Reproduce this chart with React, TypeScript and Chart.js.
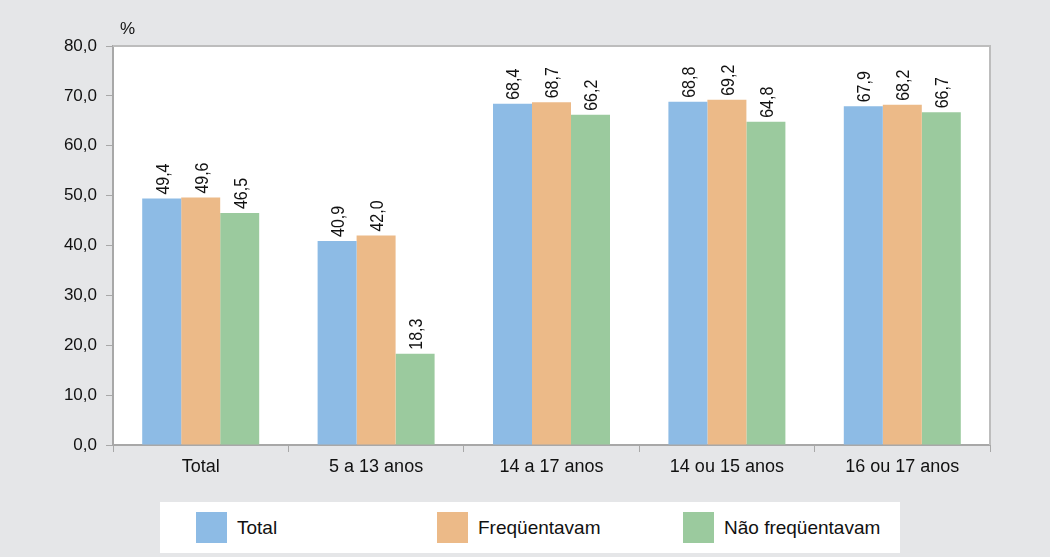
import React, { useEffect, useRef } from "react";
import { Chart, registerables } from "chart.js";

Chart.register(...registerables);

const categories = ["Total", "5 a 13 anos", "14 a 17 anos", "14 ou 15 anos", "16 ou 17 anos"];
const seriesNames = ["Total", "Freqüentavam", "Não freqüentavam"];
const totalValues = [49.4, 40.9, 68.4, 68.8, 67.9];
const frequentavamValues = [49.6, 42.0, 68.7, 69.2, 68.2];
const naoFrequentavamValues = [46.5, 18.3, 66.2, 64.8, 66.7];
const seriesColors = ["#8dbbe5", "#ecba88", "#9bca9e"];
const yUnit = "%";

const fmt = (v: number) => v.toFixed(1).replace(".", ",");

const FONT = "'Liberation Sans', Arial, sans-serif";

const plotBgPlugin = {
  id: "plotBg",
  beforeDraw(chart: any) {
    const { ctx, chartArea } = chart;
    ctx.save();
    ctx.fillStyle = "#ffffff";
    ctx.fillRect(chartArea.left, chartArea.top, chartArea.right - chartArea.left, chartArea.bottom - chartArea.top);
    ctx.restore();
  },
  afterDraw(chart: any) {
    const { ctx, chartArea } = chart;
    ctx.save();
    ctx.strokeStyle = "#bdbdbd";
    ctx.lineWidth = 2;
    ctx.beginPath();
    ctx.moveTo(chartArea.left, chartArea.top);
    ctx.lineTo(chartArea.right, chartArea.top);
    ctx.lineTo(chartArea.right, chartArea.bottom);
    ctx.stroke();
    ctx.fillStyle = "#111";
    ctx.font = `17px ${FONT}`;
    ctx.textAlign = "left";
    ctx.textBaseline = "middle";
    ctx.fillText(yUnit, chartArea.left + 7, chartArea.top - 17);
    ctx.restore();
  },
};

const dataLabelPlugin = {
  id: "dataLabels",
  afterDatasetsDraw(chart: any) {
    const { ctx } = chart;
    ctx.save();
    ctx.fillStyle = "#111";
    ctx.font = `16px ${FONT}`;
    ctx.textAlign = "left";
    ctx.textBaseline = "middle";
    chart.data.datasets.forEach((ds: any, i: number) => {
      const meta = chart.getDatasetMeta(i);
      meta.data.forEach((bar: any, j: number) => {
        const v = ds.data[j];
        ctx.save();
        ctx.translate(bar.x + 2, bar.y - 4);
        ctx.rotate(-Math.PI / 2);
        ctx.scale(1, 1.1);
        ctx.fillText(fmt(v), 0, 0);
        ctx.restore();
      });
    });
    ctx.restore();
  },
};

export default function App() {
  const canvasRef = useRef<HTMLCanvasElement | null>(null);

  useEffect(() => {
    if (!canvasRef.current) return;
    const chart = new Chart(canvasRef.current, {
      type: "bar",
      data: {
        labels: categories,
        datasets: [
          { label: seriesNames[0], data: totalValues, backgroundColor: seriesColors[0] },
          { label: seriesNames[1], data: frequentavamValues, backgroundColor: seriesColors[1] },
          { label: seriesNames[2], data: naoFrequentavamValues, backgroundColor: seriesColors[2] },
        ],
      },
      options: {
        responsive: false,
        animation: false,
        devicePixelRatio: 1,
        layout: { padding: { top: 46, right: 60, left: 0, bottom: 0 } },
        datasets: { bar: { categoryPercentage: 0.667, barPercentage: 1.0 } },
        plugins: {
          legend: { display: false },
          tooltip: { enabled: false },
          title: { display: false },
        },
        scales: {
          x: {
            grid: { drawOnChartArea: false, offset: true, tickLength: 7, color: "#a8a8a8" },
            border: { color: "#a8a8a8", width: 2 },
            ticks: { color: "#111", font: { family: FONT, size: 18 }, padding: 4 },
            afterFit(scale: any) {
              scale.height = 45;
            },
          },
          y: {
            min: 0,
            max: 80,
            ticks: {
              stepSize: 10,
              color: "#111",
              font: { family: FONT, size: 17 },
              padding: 9,
              callback: (v: any) => fmt(Number(v)),
            },
            grid: { drawOnChartArea: false, tickLength: 7, color: "#a8a8a8" },
            border: { color: "#a8a8a8", width: 2 },
            afterFit(scale: any) {
              scale.width = 113;
            },
          },
        },
      },
      plugins: [plotBgPlugin, dataLabelPlugin],
    });
    return () => chart.destroy();
  }, []);

  const legendX = [196, 437, 683];

  return (
    <div
      style={{
        position: "absolute",
        left: 0,
        top: 0,
        width: 1050,
        height: 557,
        background: "#e5e6e8",
        overflow: "hidden",
        fontFamily: FONT,
      }}
    >
      <canvas ref={canvasRef} width={1050} height={490} style={{ position: "absolute", left: 0, top: 0, width: 1050, height: 490 }} />
      <div
        style={{
          position: "absolute",
          left: 160,
          top: 502,
          width: 740,
          height: 51,
          background: "#ffffff",
        }}
      >
        {seriesNames.map((name, i) => (
          <div key={name}>
            <div
              style={{
                position: "absolute",
                left: legendX[i] - 160,
                top: 10,
                width: 31,
                height: 31,
                background: seriesColors[i],
              }}
            />
            <div
              style={{
                position: "absolute",
                left: legendX[i] - 160 + 41,
                top: 0,
                height: 51,
                lineHeight: "51px",
                fontSize: 19,
                color: "#111",
                whiteSpace: "nowrap",
              }}
            >
              {name}
            </div>
          </div>
        ))}
      </div>
    </div>
  );
}
